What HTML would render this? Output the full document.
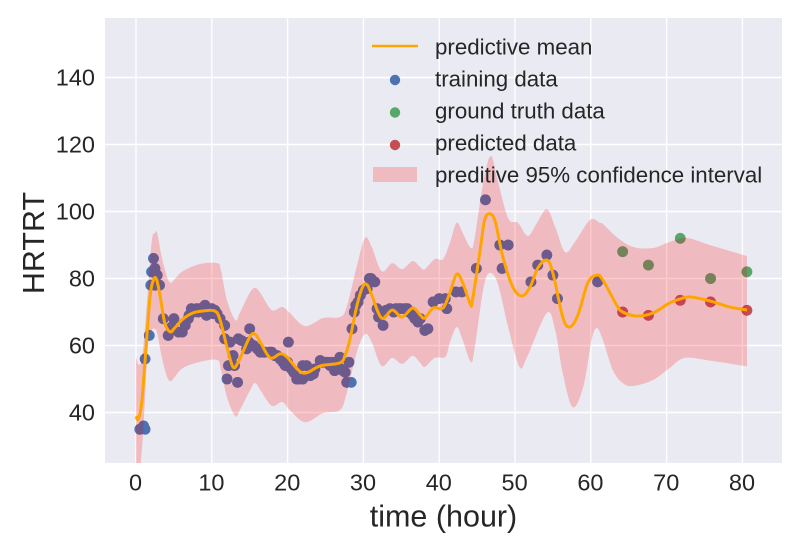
<!DOCTYPE html>
<html><head><meta charset="utf-8"><title>HRTRT prediction</title>
<style>
html,body{margin:0;padding:0;background:#fff}
svg{display:block}
text{font-family:"Liberation Sans",sans-serif;fill:#262626}
</style></head>
<body>
<svg id="chart" width="800" height="550" viewBox="0 0 800 550" xmlns="http://www.w3.org/2000/svg"></svg>
<script>
const xTicks=[0,10,20,30,40,50,60,70,80];
const yTicks=[40,60,80,100,120,140];
const meanT=[0,.3,.75,1.2,1.85,2.3,2.7,3.2,3.8,4.5,5.1,6.2,7.5,8.8,10.4,11.1,12,12.8,13.5,15,15.7,16.4,17.7,19,19.9,22,24.3,26.9,27.6,28.2,29.1,29.9,30.5,31.1,32.4,33.8,35.1,36.5,37.5,38.1,39.2,40.5,41.4,42.3,43.1,44.1,44.4,45.4,46,46.7,47.4,48.4,49.7,50.9,52,53,54.2,55,56.3,57.2,58.3,59.6,60.8,61.6,63.4,64.2,66.1,68.2,70.4,71.8,73.1,75.7,78.3,80.6];
const meanV=[38.9,38,42.8,55.7,74.5,79.5,79.8,74.5,66.7,64.1,65.2,67.9,69.7,70.3,70.3,67.6,59.5,53.6,55.1,62.5,63.4,61,56.3,57.5,56.6,51.8,53.9,54.8,57.2,61.6,71.5,77.5,78.1,75.1,68.2,70.6,68.5,71.2,69.1,68.2,71.2,71.2,75.7,81.3,78.7,72.4,73.6,88.5,97.5,99.3,96.9,86.4,77.5,74.8,77.5,83.1,85.5,81.6,68.5,65.5,69.1,78.7,81,79.5,72.1,70,68.8,69.7,72.7,73.9,74.5,73.3,71.5,70.6];
const upperT=[0,.4,.9,1.6,2.1,2.5,2.8,3.4,4.1,4.6,5.1,6.2,8.4,10.7,11.2,12,13.1,13.7,15,15.7,16.4,17.9,19.3,20.3,22.3,24.7,26.9,27.8,29.1,30.2,31.1,32.4,33.8,35.1,36.5,37.5,38.1,39.4,40.5,41.4,42.3,43.1,44.2,44.7,45.8,46.8,47.7,49.1,50.4,51.7,52.9,54.2,55.3,56.6,57.9,59.9,61.2,61.6,63.4,65.6,68.2,70.4,72.7,75.7,80.6];
const upperV=[56.6,54.2,58.1,77.5,91.5,93.6,93.6,86.4,80.4,78.7,79.8,82.2,84.3,84.6,82.5,73.6,67.6,69.7,75.7,77.2,75.7,70.6,71.5,69.7,65.8,68.2,68.5,71.5,83.4,92.1,89.4,82.2,84.6,82.8,85.2,83.4,82.8,85.8,85.8,90.6,96.6,93.6,89.1,92.4,108.5,116.6,109.4,98,96.6,92.7,96.6,100.7,95.4,87.9,90.9,97.5,96.6,96.3,92.4,89.4,89.1,90.9,92.1,90,86.7];
const lowerT=[0,.4,.9,1.6,2.1,2.5,2.8,3.4,4.1,4.6,5.1,6.2,8.4,10.7,11.2,12,13.1,13.7,15,15.7,16.4,17.9,19.3,20.3,22.3,24.7,26.9,27.8,29.1,30.2,31.1,32.4,33.8,35.1,36.5,37.5,38.1,39.4,40.8,41.4,42.3,43.1,44.2,44.7,45.8,46.6,47.7,49.1,50.6,51.6,54.2,55.3,56.3,57.6,59,60.1,60.8,61.6,62.9,64.2,65.6,68.2,70.4,72.4,75.7,80.6];
const lowerV=[21,21.5,32.7,60.7,64.6,64.9,63.7,56.6,50.6,49.4,50.6,53.3,55.1,55.7,52.7,44.6,38.9,40.7,46.4,48.8,46.7,42,43.1,40.7,37.1,39.8,40.7,45.8,57.8,63.4,61,53.9,56.3,54.5,56.9,54.8,53.6,56.3,56.6,60.8,65.5,61.6,55,59.5,76.6,81.6,78.7,65.5,53.6,56.6,69.7,64.6,51.8,41.6,47.6,61.6,65.2,61.6,52.7,48.8,47.9,49.7,53.3,56.3,55.5,53.8];
const trainT=[.5,1,1.2,1.2,1.75,1.95,2.5,3.1,2.05,2.5,2.8,2.3,3.6,4.25,5,4.7,6.1,6.5,6.9,7.3,7,7.6,8,8.4,8.8,9.1,9.3,9.7,10,10.4,10.7,11.1,11.7,11.7,12.4,12.8,12.2,13,12,13.4,13.5,13.9,14.6,15,15,16,16.8,17.9,18.3,19,19.7,20.1,20.5,21.2,22,22,23,23.6,24.3,25.3,25.8,26.2,26.9,27.6,28.1,27.8,28.4,28.5,28.8,29.3,30,30.5,31,31.5,31.8,32,32.6,33,34,35,35.8,36.5,37.2,37.5,38.1,38.5,39.2,40,40.8,41,42.2,43,44.9,46.1,48,49.1,48.3,52.1,53,54.2,55,55.6,60.9,14.9,15.5,16.4,17,17.6,18.6,19.4,20,20.8,21.5,22.5,23.4,24.6,25,25.6,26.3,26.6,27,27.3,29,29.6,30.3,30.8,33.5,34.3,34.7,35.5,36,36.8,5.6,8.2,9.5,10.2];
const trainV=[35,36,35,56,63,78,78,78,82,83,81,86,68,63,68,65.5,64,66,68,71,69,70,71,71,70.5,72,69,70,71,70.5,69.5,68,66,62,61,57,54,54,50,49,62,61.5,59,65,60,59,58,58,57,56,54,61,53,50,50,54,51,53,55.5,55,55,52.5,56.5,52,55,49,49,65,70,73,76.5,77,80,79,71,68.5,66,70.5,70,71,71,69,67,68,64.5,65,73,74,74,71,76,76,83,103.5,90,90,83,79,84,87,81,74,79,61,60,58,58,58,57,55,55,52,50,54,51.5,55,55,54,55,53,53,52.5,72,75,77,80,71,71,71,71,70,68,64,70,71,69.5];
const truthT=[64.2,67.6,71.8,75.8,80.6];
const truthV=[88,84,92,80,82];
const predT=[64.2,67.6,71.8,75.8,80.6];
const predV=[70,69,73.5,73,70.5];
const legendLabels=["predictive mean","training data","ground truth data","predicted data","preditive 95% confidence interval"];

const NS='http://www.w3.org/2000/svg';
const svg=document.getElementById('chart');
const L=105,R=782,T=18,B=463;
const sx=t=>136+t*7.58;
const sy=v=>412.5-(v-40)*3.35;
function mk(tag,attrs,parent,txt){
  const e=document.createElementNS(NS,tag);
  for(const k in attrs)e.setAttribute(k,attrs[k]);
  if(txt!==undefined)e.textContent=txt;
  (parent||svg).appendChild(e);
  return e;
}
function smooth(ts,vs,cont){
  const p=ts.map((t,i)=>[sx(t),sy(vs[i])]);
  let d=(cont?'L':'M')+p[0][0].toFixed(2)+' '+p[0][1].toFixed(2);
  for(let i=0;i<p.length-1;i++){
    const a=p[Math.max(i-1,0)],b=p[i],c=p[i+1],e=p[Math.min(i+2,p.length-1)];
    const c1=[b[0]+(c[0]-a[0])/6,b[1]+(c[1]-a[1])/6];
    const c2=[c[0]-(e[0]-b[0])/6,c[1]-(e[1]-b[1])/6];
    d+='C'+c1[0].toFixed(2)+' '+c1[1].toFixed(2)+' '+c2[0].toFixed(2)+' '+c2[1].toFixed(2)+' '+c[0].toFixed(2)+' '+c[1].toFixed(2);
  }
  return d;
}
const rT=upperT.slice().reverse(),rV=upperV.slice().reverse();
const bandPath=smooth(lowerT,lowerV,false)+smooth(rT,rV,true)+'Z';

const defs=mk('defs',{});
const cp=mk('clipPath',{id:'plot-clip'},defs);
mk('rect',{x:L,y:T,width:R-L,height:B-T},cp);
const bc=mk('clipPath',{id:'band-clip'},defs);
mk('path',{d:bandPath},bc);

const bg=mk('rect',{x:L,y:T,width:R-L,height:B-T,fill:'#EAEAF2'});



xTicks.forEach(t=>{
  const g=mk('line',{x1:sx(t),x2:sx(t),y1:T,y2:B,stroke:'#fff','stroke-width':1.4});
  
  
  const l=mk('text',{x:sx(t)-.4,y:490.5,'text-anchor':'middle','font-size':23.5},svg,String(t));
  
  
});
yTicks.forEach(v=>{
  const g=mk('line',{x1:L,x2:R,y1:sy(v),y2:sy(v),stroke:'#fff','stroke-width':1.4});
  
  
  const l=mk('text',{x:95,y:sy(v)+8,'text-anchor':'end','font-size':23.5},svg,String(v));
  
  
});

const plot=mk('g',{'clip-path':'url(#plot-clip)'});



function scatter(ts,vs,color,name,parent){
  const g=mk('g',{},parent);
  
  
  ts.forEach((t,i)=>{
    const c=mk('circle',{cx:sx(t),cy:sy(vs[i]),r:5.4,fill:color},g);
    
    
  });
}
scatter(trainT,trainV,'#4C72B0','training-data',plot);
scatter(truthT,truthV,'#55A868','ground-truth-data',plot);
scatter(predT,predV,'#C44E52','predicted-data',plot);

const band=mk('path',{d:bandPath,fill:'#FB5050','fill-opacity':.3},plot);



const inBand=mk('g',{'clip-path':'url(#band-clip)'},plot);


scatter(trainT,trainV,'#6C5A8C','training-data-tinted',inBand);
scatter(truthT,truthV,'#76835A','ground-truth-data-tinted',inBand);
scatter(predT,predV,'#C8434F','predicted-data-tinted',inBand);

const line=mk('path',{d:smooth(meanT,meanV,false),fill:'none',stroke:'#FFA500','stroke-width':3,'stroke-linejoin':'round'},plot);



const xTitle=mk('text',{x:443.5,y:526.5,'text-anchor':'middle','font-size':30.5},svg,'time (hour)');


const yTitle=mk('text',{x:0,y:0,'text-anchor':'middle','font-size':30.5,transform:'translate(44 243) rotate(-90)'},svg,'HRTRT');



const legend=mk('g',{});


const legY=[47,79,111,143,175];
legendLabels.forEach((s,i)=>{
  const t=mk('text',{x:435,y:legY[i]+7.5,'font-size':22.3},legend,s);
  
  
});
const k1=mk('line',{x1:372,x2:418,y1:46,y2:46,stroke:'#FFA500','stroke-width':2.6},legend);


const k2=mk('circle',{cx:395,cy:80,r:5.2,fill:'#4C72B0'},legend);


const k3=mk('circle',{cx:395,cy:112.5,r:5.2,fill:'#55A868'},legend);


const k4=mk('circle',{cx:395,cy:145,r:5.2,fill:'#C44E52'},legend);


const k5=mk('rect',{x:373,y:167,width:44,height:15,fill:'#FB5050','fill-opacity':.3},legend);


</script>
</body></html>
